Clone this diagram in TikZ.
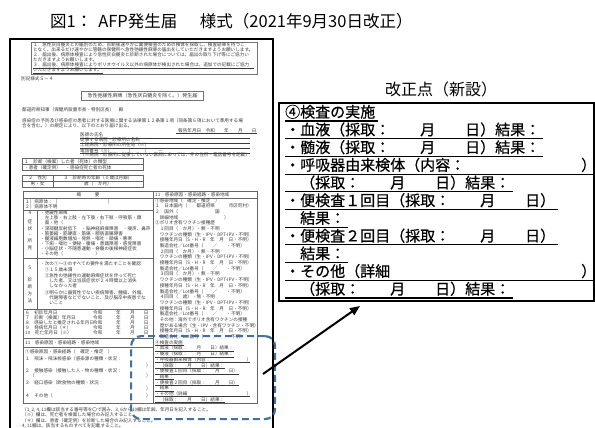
\documentclass[tikz,border=0pt]{standalone}
\usepackage{fontspec}
\setmainfont{Noto Sans CJK JP}
\newfontfamily\boxfont[FakeBold=0.6]{Noto Sans CJK JP}
\usetikzlibrary{arrows.meta}
\definecolor{dashblue}{HTML}{41719C}
\definecolor{inkgray}{HTML}{3A3A3A}
\newcommand\myfs[1]{\fontsize{#1}{#1}\selectfont}
\begin{document}
\begin{tikzpicture}[x=1pt,y=-1pt,
  tx/.style={anchor=base west,inner sep=0pt,font=\myfs{4.6},text=inkgray},
  txc/.style={anchor=base,inner sep=0pt,font=\myfs{4.6},text=inkgray},
  rule/.style={draw=black!60,line width=0.5pt},
  boxtx/.style={anchor=base west,inner sep=0pt,font=\boxfont\myfs{15}},
  uline/.style={line width=1.1pt},
  muline/.style={draw=inkgray,line width=0.4pt}]
\useasboundingbox (0,0) rectangle (595,428);
\fill[white] (0,0) rectangle (595,428);

% caption
\node[anchor=west,inner sep=0pt,font=\myfs{16.5}] (caption) at (50,21) {図1：\hspace{6pt}AFP発生届　\hspace{6pt}様式（2021年9月30日改正）};

% ================= left form =================
\draw[line width=1.1pt] (10,39) rectangle (273,436);
% notes box
\draw[draw=black!55,line width=0.7pt] (31,42) rectangle (257,74);
\node[tx] (n1) at (33,47) {１．急性灰白髄炎との鑑別のため、診断後速やかに糞便検査のための検体を採取し、検査結果を待つこ};
\node[tx] (n2) at (33,52) {となく、出来るだけ速やかに管轄の保健所へ急性弛緩性麻痺の届出をしていただきますようお願いします。};
\node[tx] (n3) at (33,57) {２．届出後、病原体検査により急性灰白髄炎と診断された場合については、届出の取り下げ等にご協力い};
\node[tx] (n4) at (33,62) {ただきますようお願いします。};
\node[tx] (n5) at (33,67) {３．届出後、病原体検査によりポリオウイルス以外の病原体が検出された場合は、追加での記載にご協力};
\node[tx] (n6) at (33,72) {いただきますようお願いします。};
\draw[muline] (33,68) -- (254,68);
\draw[muline] (33,73) -- (103,73);

\node[tx] (bekki) at (21,80.5) {別記様式５－４};
\node[draw=black!55,line width=0.6pt,inner xsep=6pt,inner ysep=2pt,font=\myfs{5},text=inkgray] (formtitle) at (142.5,96) {急性弛緩性麻痺（急性灰白髄炎を除く。）発生届};
\node[tx] (chiji) at (22,112) {都道府県知事（保健所設置市長・特別区長）　殿};
\node[tx] (law1) at (22,122) {感染症の予防及び感染症の患者に対する医療に関する法律第１２条第１項（同条第６項において準用する場};
\node[tx] (law2) at (22,127.5) {合を含む。）の規定により、以下のとおり届け出る。};
\node[tx] (hokoku) at (178,132) {報告年月日　令和　　年　　月　　日};
\draw[muline] (176,133.5) -- (257,133.5);

\node[tx] (ishi) at (80,136.5) {医師の氏名};
\node[tx] (byoin) at (80,141.5) {従事する病院・診療所の名称};
\node[tx] (shozai) at (80,146.8) {上記病院・診療所の所在地（※）};
\node[tx] (tel) at (80,152) {電話番号（※）　　　（　　　）　　－};
\node[tx] (chu) at (80,157) {（※病院・診療所に従事していない医師にあっては、その住所・電話番号を記載）};
\draw[muline] (80,137.8) -- (250,137.8);
\draw[muline] (80,143) -- (250,143);
\draw[muline] (80,148.2) -- (250,148.2);
\draw[muline] (80,153.4) -- (250,153.4);

% table 1
\draw[rule] (22,158.5) rectangle (143,170.5);
\draw[rule] (22,164.5) -- (143,164.5);
\node[tx] (t1a) at (24,163) {１　診断（検案）した者（死体）の類型};
\node[tx] (t1b) at (24,169) {・患者（確定例）　・感染症死亡者の死体};
% table 2
\draw[rule] (22,175) rectangle (143,187);
\draw[rule] (22,181) -- (143,181);
\draw[rule] (53,175) -- (53,187);
\node[txc] (t2a) at (37.5,179.5) {２　性別};
\node[txc] (t2b) at (98,179.5) {３　診断時の年齢（０歳は月齢）};
\node[txc] (t2c) at (37.5,185.5) {男・女};
\node[txc] (t2d) at (98,185.5) {歳（　か月）};

% big table
\draw[rule] (23,191) rectangle (257,403);
\draw[rule] (153,191) -- (153,403);
\draw[rule] (23,198) -- (257,198);
\draw[rule] (23,210.5) -- (153,210.5);
\draw[rule] (23,258) -- (153,258);
\draw[rule] (23,309) -- (153,309);
\draw[rule] (23,338) -- (153,338);
\draw[rule] (23,347.5) -- (153,347.5);
\draw[rule] (37,210.5) -- (37,309);

\node[txc] (gaiyo) at (88,196) {概　　　要};
\node[tx] (g1) at (25,203.5) {１）病原体：（　　　　　　　　　　　）};
\node[tx] (g2) at (25,208.7) {２）病原体不明};

% section 4
\foreach \c/\yy [count=\k] in {４/214,症/223,状/230,・/236,所/242.5,見/249}
  \node[txc,name=s4l\k] at (30,\yy) {\c};
\foreach \t/\yy [count=\k] in {
  {・弛緩性麻痺}/214,
  {　左上肢・右上肢・左下肢・右下肢・呼吸筋・顔}/219.2,
  {　面・他（　　　　　　　　）}/224.4,
  {・深部腱反射低下　・脳神経麻痺障害　・嗄声、鼻声}/230.5,
  {・筋萎縮・筋硬直・筋痛・膀胱直腸障害}/235.5,
  {・髄液細胞数増加・発熱・嘔吐・頭痛・悪寒}/240.5,
  {・下痢・嘔吐・便秘・腹痛・意識障害・感覚障害}/245.5,
  {・小脳症状・不随意運動・脊髄の後根神経症状}/250.5,
  {・その他（　　　　　　　）}/255.5}
  \node[tx,name=s4\k] at (40,\yy) {\t};

% section 5
\foreach \c/\yy [count=\k] in {５/269,診/281,断/288,方/295,法/302}
  \node[txc,name=s5l\k] at (30,\yy) {\c};
\foreach \t/\yy [count=\k] in {
  {・次の①～③のすべての要件を満たすことを確認}/265,
  {　①１５歳未満}/271,
  {　②急性の弛緩性の運動麻痺症状を伴って死亡}/277,
  {　　した者、又は当該症状が２４時間以上消失}/282,
  {　　しなかった者}/287,
  {　③明らかに器質性でない疾病障害、腫瘍、外傷、}/294,
  {　　代謝障害などでないこと、及び脳卒中疾患でな}/299,
  {　　いこと}/304}
  \node[tx,name=s5\k] at (40,\yy) {\t};

% rows 6-10
\foreach \t/\yy [count=\k] in {
  {６　初診年月日}/314,
  {７　診断（検案）年月日}/319,
  {８　感染したと推定される年月日}/324,
  {９　発病年月日（＊）}/329,
  {10　死亡年月日（※）}/334}
  {\node[tx,name=d\k] at (25,\yy) {\t};
   \node[tx,name=dr\k] at (93,\yy) {令和　　　年　　月　　日};}

% lower section 11
\node[tx] (k11) at (25,344.5) {11　感染原因・感染経路・感染地域};
\node[tx] (k11a) at (25,353) {①感染原因・感染経路（　確定・推定　）};
\node[tx] (k11b) at (25,360.5) {１　飛沫・飛沫核感染（感染源の種類・状況：};
\node[tx] (k11bc) at (146,367) {）};
\node[tx] (k11c) at (25,372) {２　接触感染（接触した人・物の種類・状況：};
\node[tx] (k11co) at (30,377.5) {（};
\node[tx] (k11cc) at (146,377.5) {）};
\node[tx] (k11d) at (25,384) {３　経口感染（飲食物の種類・状況：};
\node[tx] (k11dc) at (146,390) {）};
\node[tx] (k11e) at (25,397) {４　その他（};
\node[tx] (k11ec) at (146,397) {）};

% right column
\node[tx] (rh) at (155,196) {11　感染原因・感染経路・感染地域};
\foreach \t [count=\k, evaluate=\k as \yy using 202+5.69*(\k-1)] in {
  {①感染地域（　確定・推定　）},
  {１　日本国内（　　都道府県　　　市区町村）},
  {２　国外（　　　　　　　　国},
  {　詳細地域　　　　　　　　　　）},
  {②ポリオ含有ワクチン接種歴},
  {　１回目（　か月）・無・不明},
  {　ワクチンの種類（生・IPV・DPT-IPV・不明）},
  {　接種年月日（S・H・R　年　月　日・不明）},
  {　製造会社／Lot番号（　　／　　・不明）},
  {　２回目（　か月）・無・不明},
  {　ワクチンの種類（生・IPV・DPT-IPV・不明）},
  {　接種年月日（S・H・R　年　月　日・不明）},
  {　製造会社／Lot番号（　　／　　・不明）},
  {　３回目（　か月）・無・不明},
  {　ワクチンの種類（生・IPV・DPT-IPV・不明）},
  {　接種年月日（S・H・R　年　月　日・不明）},
  {　製造会社／Lot番号（　　／　　・不明）},
  {　４回目（　歳）・無・不明},
  {　ワクチンの種類（生・IPV・DPT-IPV・不明）},
  {　接種年月日（S・H・R　年　月　日・不明）},
  {　製造会社／Lot番号（　　／　　・不明）},
  {　その他：海外でポリオ含有ワクチンの接種},
  {　歴がある場合（生・IPV・含有ワクチン・不明）},
  {　接種年月日（S・H・R　年　月　日・不明）},
  {　製造会社／Lot番号（　　／　　・不明）}}
  \node[tx,name=rc\k] at (155,\yy) {\t};

% mini exam block
\foreach \t/\e [count=\k, evaluate=\k as \yy using 202+5.69*(\k+24)] in {
  {④検査の実施}/183.5,
  {・血液（採取：　　月　　日）結果：}/234,
  {・髄液（採取：　　月　　日）結果：}/234,
  {・呼吸器由来検体（内容：}/250,
  {　（採取：　　月　　日）結果：}/225,
  {・便検査１回目（採取：　　月　　日）}/239,
  {　結果：}/174,
  {・便検査２回目（採取：　　月　　日）}/239,
  {　結果：}/174,
  {・その他（詳細}/250,
  {　（採取：　　月　　日）結果：}/225}
  {\node[tx,name=mx\k] at (155,\yy) {\t};
   \draw[muline] (155,\yy+1.1) -- (\e,\yy+1.1);}
\node[tx] (mxc1) at (246.4,{202+5.69*28}) {）};
\node[tx] (mxc2) at (246.4,{202+5.69*34}) {）};

% footnotes
\node[tx] (f1) at (22,411) {（1, 2, 4, 11欄は該当する番号等を〇で囲み、3, 6から10欄は年齢、年月日を記入すること。};
\node[tx] (f2) at (22,416.5) {（※）欄は、死亡者を検案した場合のみ記入すること。};
\node[tx] (f3) at (22,422) {（＊）欄は、患者（確定例）を診断した場合のみ記入すること。};
\node[tx] (f4) at (22,427.5) {4, 11欄は、該当するものすべてを記載すること。};

% dashed highlight
\node[draw=dashblue,line width=2.2pt,dash pattern=on 7pt off 4pt,rounded corners=10pt,
      minimum width=144pt,minimum height=83pt,inner sep=0pt,anchor=north west] (focus) at (130,335) {};

% ================= right box =================
\node[font=\myfs{16}] (kaisei) at (441,89) {改正点（新設）};
\draw[line width=1.4pt] (279,103) rectangle (594,301);
\node[boxtx] (r0) at (285,117.5) {④検査の実施};
\node[boxtx] (r1) at (285,135.2) {・血液（採取：　　月　　日）結果：};
\node[boxtx] (r2) at (285,152.9) {・髄液（採取：　　月　　日）結果：};
\node[boxtx] (r3) at (285,170.6) {・呼吸器由来検体（内容：};
\node[boxtx] (r3b) at (581,170.6) {）};
\node[boxtx] (r4) at (285,188.3) {　（採取：　　月　　日）結果：};
\node[boxtx] (r5) at (285,206) {・便検査１回目（採取：　　月　　日）};
\node[boxtx] (r6) at (285,223.7) {　結果：};
\node[boxtx] (r7) at (285,241.4) {・便検査２回目（採取：　　月　　日）};
\node[boxtx] (r8) at (285,259.1) {　結果：};
\node[boxtx] (r9) at (285,276.8) {・その他（詳細};
\node[boxtx] (r9b) at (581,276.8) {）};
\node[boxtx] (r10) at (285,294.5) {　（採取：　　月　　日）結果：};
\draw[uline] (285,121) -- (378,121);
\draw[uline] (285,138.7) -- (543,138.7);
\draw[uline] (285,156.4) -- (543,156.4);
\draw[uline] (285,174.1) -- (594,174.1);
\draw[uline] (285,191.8) -- (513,191.8);
\draw[uline] (285,209.5) -- (558,209.5);
\draw[uline] (285,227.2) -- (348,227.2);
\draw[uline] (285,244.9) -- (558,244.9);
\draw[uline] (285,262.6) -- (348,262.6);
\draw[uline] (285,280.3) -- (594,280.3);
\draw[uline] (285,298) -- (513,298);

% arrow
\coordinate (astart) at (263,374);
\coordinate (aend) at (360,306);
\draw[line width=2pt,-{Triangle[length=10pt,width=8pt]}] (astart) -- (aend);
\end{tikzpicture}
\end{document}
